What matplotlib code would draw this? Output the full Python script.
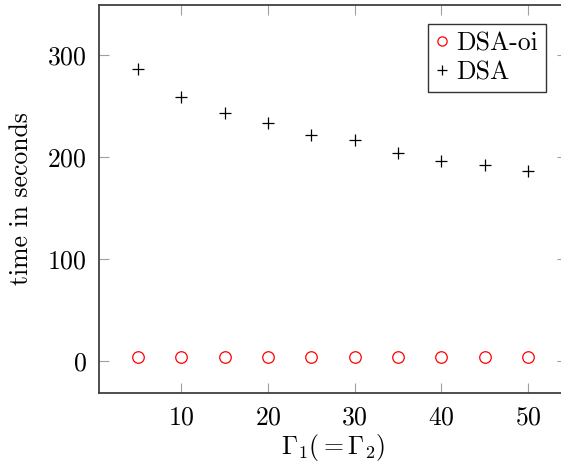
import matplotlib
matplotlib.use("Agg")
import matplotlib.pyplot as plt

gamma = [5, 10, 15, 20, 25, 30, 35, 40, 45, 50]
dsa_oi = [4, 4, 4, 3.8, 4, 4, 3.8, 3.8, 3.8, 3.8]
dsa = [286, 259, 243, 233, 222, 217, 204, 196, 192, 186]
xticks = [10, 20, 30, 40, 50]
yticks = [0, 100, 200, 300]

plt.rcParams['font.family'] = 'cmr10'
plt.rcParams['mathtext.fontset'] = 'cm'
plt.rcParams['axes.formatter.use_mathtext'] = True

W, H = 561, 467
fig = plt.figure(figsize=(W/100, H/100), dpi=100)
L, R, T, B = 99, 567, 5, 393
ax = fig.add_axes([L/W, 1-B/H, (R-L)/W, (B-T)/H])

ax.plot(gamma, dsa_oi, linestyle='none', marker='o', markerfacecolor='none',
        markeredgecolor='red', markersize=8.3, markeredgewidth=0.9, label='DSA-oi')
ax.plot(gamma, dsa, linestyle='none', marker='+', color='black',
        markersize=8.5, markeredgewidth=0.9, label='DSA')

ax.set_xlim(0.5, 54.5)
ax.set_ylim(-31.4, 349)
ax.set_xticks(xticks)
ax.set_yticks(yticks)
ax.tick_params(direction='in', length=7.5, width=0.8, color='#a0a0a0',
               labelsize=18.5, top=True, right=True, pad=9)
for s in ax.spines.values():
    s.set_color('#404040')
    s.set_linewidth(1.3)

ax.set_xlabel(r'$\Gamma_1 (= \Gamma_2)$', fontsize=18.5, labelpad=2)
ax.set_ylabel('time in seconds', fontsize=18.5, labelpad=10)

leg = ax.legend(loc='upper left', bbox_to_anchor=((428-L)/(R-L), 1-(24-T)/(B-T)),
                fontsize=18.5, frameon=True, fancybox=False, borderpad=0.3,
                handlelength=0.5, handletextpad=0.3, labelspacing=0.2,
                borderaxespad=0, markerscale=0.8)
leg.get_frame().set_edgecolor('black')
leg.get_frame().set_linewidth(1.0)

fig.savefig('out.png', dpi=100)
